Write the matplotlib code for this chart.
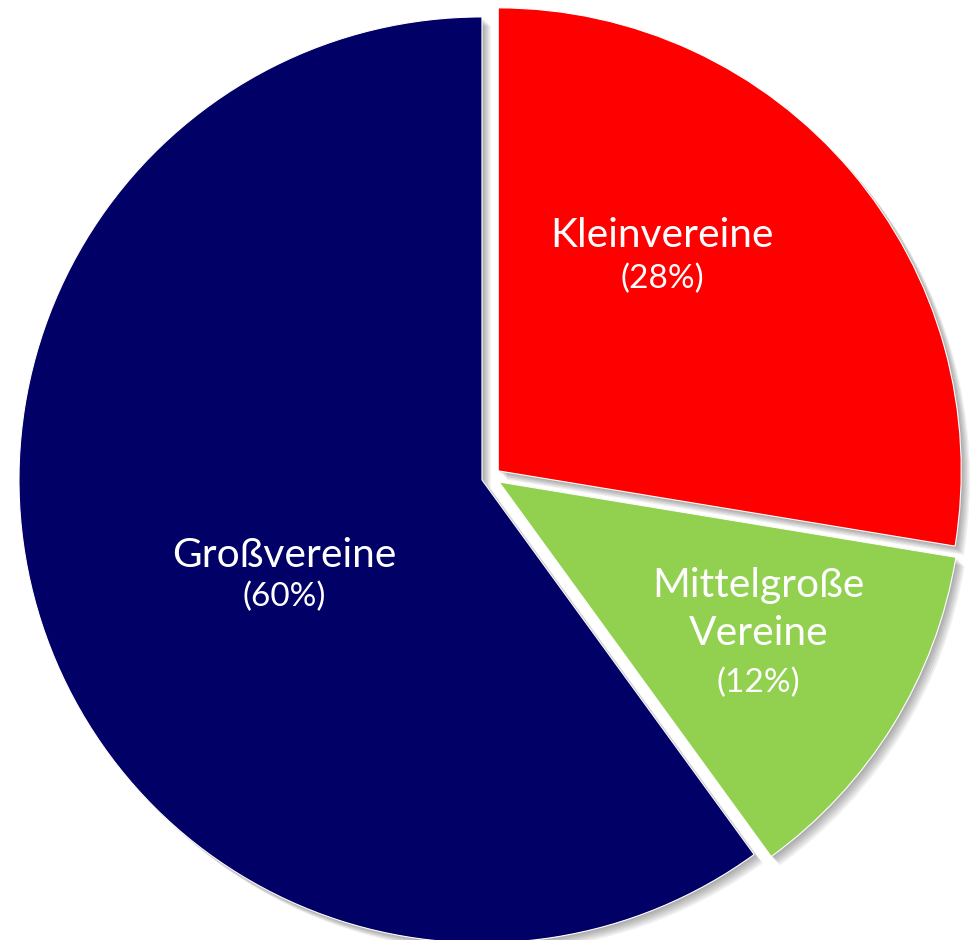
import matplotlib
matplotlib.use('Agg')
import matplotlib.pyplot as plt
from matplotlib.patches import Wedge

# ── Data ─────────────────────────────────────────────────────────────────────
categories = ['Kleinvereine', 'Mittelgroße\nVereine', 'Großvereine']
shares     = [27.6, 12.4, 60.0]
colors     = ['#ff0000', '#92d050', '#000066']
explode    = [0.0205, 0.0205, 0.0205]

# label anchors (data units, radius = 1): x, baseline of first line, centre of pct
label_x    = [0.3704, 0.5778, -0.4471]
label_y    = [0.4968, -0.2592, -0.1944]
pct_y      = [0.4276, -0.4449, -0.2592]

LINE_STEP = 0.1037   # baseline-to-baseline distance, data units
FONT = ['Lato', 'DejaVu Sans']

fig = plt.figure(figsize=(9.72, 9.40), dpi=100)
fig.patch.set_facecolor('white')
ax = fig.add_axes([0, 0, 1, 1])

wedges, _ = ax.pie(shares, colors=colors, explode=explode, startangle=90,
                   counterclock=False, radius=1.0,
                   wedgeprops=dict(edgecolor='white', linewidth=0.8))

# pie() resets the limits, so set them afterwards
ax.set_xlim(-1.0605, 1.0389)
ax.set_ylim(-1.0000, 1.0302)
ax.set_aspect('equal')
ax.axis('off')

# soft drop shadow under each wedge
for w in wedges:
    cx, cy = w.center
    for k in range(6):
        d = 0.004 + k * 0.003
        sh = Wedge((cx + d, cy - d), w.r, w.theta1, w.theta2,
                   facecolor='#000000', edgecolor='none',
                   alpha=0.06, zorder=w.get_zorder() - 1)
        ax.add_patch(sh)

for name, val, x, y, py in zip(categories, shares, label_x, label_y, pct_y):
    for i, line in enumerate(name.split('\n')):
        ax.text(x, y - i * LINE_STEP, line, ha='center', va='baseline',
                fontsize=29.3, color='white', family=FONT)
    ax.text(x, py, f'({round(val)}%)', ha='center', va='center',
            fontsize=24, color='white', family=FONT)

fig.savefig('out.png', dpi=100, facecolor='white')
